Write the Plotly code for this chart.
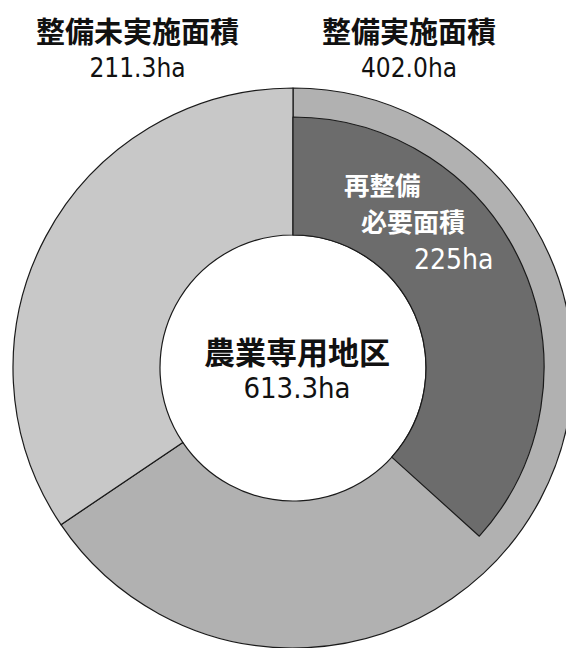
import plotly.graph_objects as go

# Data
outer_labels = ["整備実施面積", "整備未実施面積"]
outer_values = [402.0, 211.3]
inner_labels = ["再整備必要面積", "その他"]
inner_values = [225.0, 402.0 + 211.3 - 225.0]
total_label = "農業専用地区"
total_value = 613.3

W, H = 574, 648
OFF = 8                      # page body margin
cx, cy = 293 - OFF, 368 - OFF  # pixel center inside the figure (from top)
R_out, R_in, R_hole = 280, 251, 133

def dom(r):
    yb = H - cy
    return dict(x=[(cx - r) / W, (cx + r) / W], y=[(yb - r) / H, (yb + r) / H])

CJK = "Noto Sans CJK JP, Noto Sans CJK SC, sans-serif"
NUM = "'DejaVu Sans Condensed', 'Liberation Sans Narrow', sans-serif"

fig = go.Figure()
fig.add_trace(go.Pie(
    labels=outer_labels, values=outer_values, sort=False, direction="clockwise",
    rotation=0, hole=R_hole / R_out, domain=dom(R_out),
    marker=dict(colors=["#b1b1b1", "#c8c8c8"], line=dict(color="#1a1a1a", width=1.2)),
    textinfo="none", hoverinfo="label+value", showlegend=False,
))
fig.add_trace(go.Pie(
    labels=inner_labels, values=inner_values, sort=False, direction="clockwise",
    rotation=0, hole=R_hole / R_in, domain=dom(R_in),
    marker=dict(colors=["#6c6c6c", "rgba(0,0,0,0)"],
                line=dict(color=["#1a1a1a", "rgba(0,0,0,0)"], width=[1.2, 0])),
    textinfo="none", hoverinfo="label+value", showlegend=False,
))

def sp(text, size, family=None, bold=False):
    st = "font-size:%spx" % size
    if family:
        st += ";font-family:%s" % family
    t = "<b>%s</b>" % text if bold else text
    return '<span style="%s">%s</span>' % (st, t)

def ann(text, x, y, size, color="#111", anchor="center", align="center"):
    fig.add_annotation(text=text, x=(x - OFF) / W, y=1 - (y - OFF) / H,
                       xref="paper", yref="paper", showarrow=False,
                       xanchor=anchor, yanchor="middle", align=align,
                       font=dict(family=CJK, size=size, color=color))

# top labels (two lines each)
ann(sp(outer_labels[1], 29, bold=True) + "<br>" + sp("%.1fha" % outer_values[1], 26, NUM),
    137, 46, 26)
ann(sp(outer_labels[0], 29, bold=True) + "<br>" + sp("%.1fha" % outer_values[0], 26, NUM),
    409, 46, 26)

# label inside the dark wedge
ann(sp("再整備", 25.5, bold=True) + "<br>" +
    sp("\u3000", 17) + sp("必要面積", 26, bold=True) + "<br>" +
    sp("\u3000", 70) + sp("%dha" % inner_values[0], 28, NUM),
    342, 227, 28.5, color="white", anchor="left", align="left")

# center label
ann(sp(total_label, 31, bold=True) + "<br>" + sp("%.1fha" % total_value, 29, NUM),
    297, 366, 26)

fig.update_layout(width=W, height=H, margin=dict(l=0, r=0, t=0, b=0),
                  paper_bgcolor="white", plot_bgcolor="white")
fig.write_html("out.html")
